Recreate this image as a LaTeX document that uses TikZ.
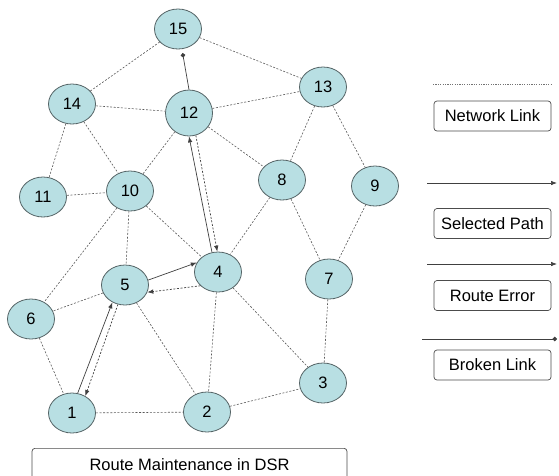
\documentclass[tikz,border=0pt]{standalone}
\usepackage{fontspec}
\setmainfont{Liberation Sans}
\usepackage{tikz}
\usetikzlibrary{arrows.meta, shapes.geometric}

\definecolor{nodefill}{RGB}{184,223,227}
\definecolor{nodeline}{RGB}{85,100,102}

\begin{document}
\begin{tikzpicture}[x=1pt, y=-1pt,
    host/.style={ellipse, draw=nodeline, fill=nodefill, line width=0.8pt,
        minimum width=47pt, minimum height=40pt, inner sep=0pt,
        font=\fontsize{16.5}{19}\selectfont},
    link/.style={draw=black!65, line width=0.6pt, dash pattern=on 2pt off 1.6pt},
    sel/.style={draw=black!75, line width=0.7pt, -{Latex[length=6pt,width=4.5pt]}},
    rerr/.style={draw=black!75, line width=0.7pt, dash pattern=on 2pt off 1.6pt,
        -{Latex[length=6pt,width=4.5pt]}},
    broken/.style={draw=black!75, line width=0.7pt, -{Circle[length=4.5pt]}},
    legbox/.style={draw=black!70, line width=0.7pt, rounded corners=3pt, fill=white,
        minimum width=117pt, minimum height=30pt, inner sep=0pt,
        font=\fontsize{16.5}{19}\selectfont}]
    \useasboundingbox (0,0) rectangle (559,475);
    % hosts
    \node[host](n15) at (178,29) {15};
    \node[host](n14) at (72,104) {14};
    \node[host, minimum height=46pt](n12) at (189,113) {12};
    \node[host](n13) at (323,87) {13};
    \node[host](n11) at (43,197) {11};
    \node[host](n10) at (130,191) {10};
    \node[host](n8) at (282,180) {8};
    \node[host](n9) at (375,186) {9};
    \node[host](n4) at (218,272) {4};
    \node[host](n5) at (125,285) {5};
    \node[host](n7) at (329,279) {7};
    \node[host](n6) at (31,319) {6};
    \node[host](n3) at (323,383) {3};
    \node[host](n1) at (72,413) {1};
    \node[host](n2) at (207,412) {2};
    % network links
    \path[link]
        (n15) edge (n14) edge (n13)
        (n14) edge (n12) edge (n10) edge (n11)
        (n11) edge (n10)
        (n12) edge (n13) edge (n10) edge (n8)
        (n13) edge (n8) edge (n9)
        (n10) edge (n6) edge (n5) edge (n4)
        (n8) edge (n4) edge (n7)
        (n9) edge (n7)
        (n5) edge (n6) edge (n2)
        (n4) edge (n2) edge (n3)
        (n7) edge (n3)
        (n6) edge (n1)
        (n1) edge (n2)
        (n2) edge (n3);
    % selected path, route error, broken link
    \draw[sel] (n1.74) -- (n5.234);
    \draw[sel] (n5.12) -- (n4.156);
    \draw[sel] (n4.107) -- (n12.270);
    \draw[rerr] (n12.287) -- (n4.92);
    \draw[rerr] (n4.218) -- (n5.342);
    \draw[rerr] (n5.250) -- (n1.52);
    \draw[broken, shorten >=4pt] (n12.north) -- (n15.281);
    % legend
    \coordinate (nla) at (433,84);
    \coordinate (nlb) at (552,84);
    \coordinate (spa) at (427,183);
    \coordinate (spb) at (557,183);
    \coordinate (rea) at (427,264);
    \coordinate (reb) at (557,264);
    \coordinate (bla) at (422,339);
    \coordinate (blb) at (557,339);
    \draw[draw=black!55, line width=0.6pt, dash pattern=on 1.2pt off 1.2pt] (nla) -- (nlb);
    \draw[sel] (spa) -- (spb);
    \draw[sel] (rea) -- (reb);
    \draw[broken] (bla) -- (blb);
    \node[legbox](netlink) at (492.5,116) {Network Link};
    \node[legbox](selpath) at (492.5,223.5) {Selected Path};
    \node[legbox](routeerr) at (492.5,295.5) {Route Error};
    \node[legbox](brklink) at (492.5,365) {Broken Link};
    % caption
    \node[legbox, minimum width=315pt, minimum height=32pt, anchor=north](caption) at (189.5,448) {Route Maintenance in DSR};
\end{tikzpicture}
\end{document}
